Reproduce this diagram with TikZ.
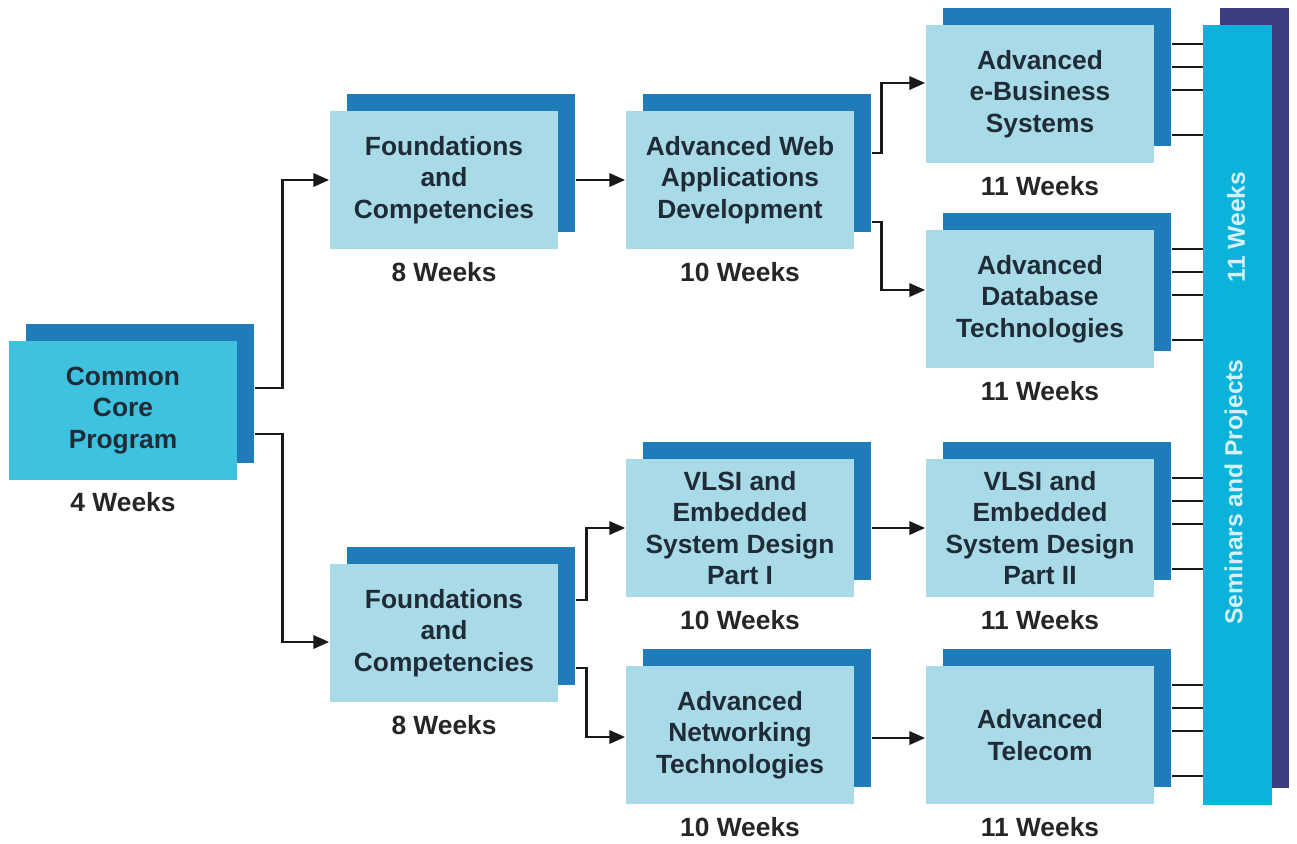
\documentclass[tikz,border=0pt]{standalone}
\usepackage{fontspec}
\setmainfont{Liberation Sans}
\usetikzlibrary{arrows.meta,positioning,calc,shadows}

\definecolor{coreblue}{HTML}{3EC2DF}
\definecolor{modblue}{HTML}{A8DBE7}
\definecolor{backblue}{HTML}{1E7CB9}
\definecolor{barblue}{HTML}{0BB3DA}
\definecolor{barback}{HTML}{3C3E84}
\definecolor{boxtext}{HTML}{1F2B36}
\definecolor{bartext}{HTML}{D6F1F8}

\begin{document}
\begin{tikzpicture}[x=0.02cm, y=-0.02cm,
  modbox/.style={rectangle, fill=modblue, minimum width=4.58cm, minimum height=2.77cm,
    align=center, text=boxtext, font=\bfseries\fontsize{15}{17.9}\selectfont,
    general shadow={fill=backblue, shadow xshift=0.34cm, shadow yshift=0.34cm}},
  weeks/.style={inner sep=0pt, below=7pt of #1, text=black!85, font=\bfseries\fontsize{15}{18}\selectfont},
  flow/.style={line width=1.6pt, black!90, -{Triangle[length=9pt,width=7.5pt]}},
  tick/.style={line width=1.6pt, black!90},
  bartext/.style={rotate=90, text=bartext, font=\bfseries\fontsize{14}{17}\selectfont}]
\useasboundingbox (0,0) rectangle (1297,843);

% Common Core
\node[modbox, fill=coreblue] (ccp) at (123,410.5) {Common\\Core\\Program};
\node[weeks=ccp] (ccpw) {4 Weeks};

% Foundations (oben)
\node[modbox] (fnd1) at (444,180) {Foundations\\and\\Competencies};
\node[weeks=fnd1] (fnd1w) {8 Weeks};

% Web
\node[modbox] (web) at (740,180) {Advanced Web\\Applications\\Development};
\node[weeks=web] (webw) {10 Weeks};

% e-Business
\node[modbox] (ebus) at (1040,94) {Advanced\\e-Business\\Systems};
\node[weeks=ebus] (ebusw) {11 Weeks};

% Database
\node[modbox] (db) at (1040,299) {Advanced\\Database\\Technologies};
\node[weeks=db] (dbw) {11 Weeks};

% Foundations (unten)
\node[modbox] (fnd2) at (444,633) {Foundations\\and\\Competencies};
\node[weeks=fnd2] (fnd2w) {8 Weeks};

% VLSI I
\node[modbox] (vlsi1) at (740,528) {VLSI and\\Embedded\\System Design\\Part I};
\node[weeks=vlsi1] (vlsi1w) {10 Weeks};

% VLSI II
\node[modbox] (vlsi2) at (1040,528) {VLSI and\\Embedded\\System Design\\Part II};
\node[weeks=vlsi2] (vlsi2w) {11 Weeks};

% Networking
\node[modbox] (net) at (740,735) {Advanced\\Networking\\Technologies};
\node[weeks=net] (netw) {10 Weeks};

% Telecom
\node[modbox] (tel) at (1040,735) {Advanced\\Telecom};
\node[weeks=tel] (telw) {11 Weeks};

% Seminars-Balken
\node[rectangle, fill=barblue, minimum width=1.38cm, minimum height=15.6cm, inner sep=0pt,
  general shadow={fill=barback, shadow xshift=0.34cm, shadow yshift=0.34cm}] (bar) at (1237.5,415) {};
\node[bartext] (barwk) at (1236,227) {11 Weeks};
\node[bartext] (barsp) at (1236,492) {Seminars and Projects};

% Verbindungen
\draw[flow] ($(ccp.east)+(17,-22.5)$) -- ++(28,0) |- (fnd1.west);
\draw[flow] ($(ccp.east)+(17,23.5)$) -- ++(28,0) |- ($(fnd2.west)+(0,9)$);
\draw[flow] ($(fnd1.east)+(17,0)$) -- (web.west);
\draw[flow] ($(web.east)+(17,-27)$) -- ++(10,0) |- ($(ebus.west)+(0,-11)$);
\draw[flow] ($(web.east)+(17,42)$) -- ++(10,0) |- ($(db.west)+(0,-9)$);
\draw[flow] ($(fnd2.east)+(17,-33)$) -- ++(11,0) |- (vlsi1.west);
\draw[flow] ($(fnd2.east)+(17,35)$) -- ++(11,0) |- ($(net.west)+(0,2)$);
\draw[flow] ($(vlsi1.east)+(17,0)$) -- (vlsi2.west);
\draw[flow] ($(net.east)+(17,3)$) -- ($(tel.west)+(0,3)$);

% Anschluesse an den Balken
\foreach \m in {ebus,db,vlsi2,tel}
  \foreach \o in {-50,-27,-4,41}
    \draw[tick] ($(\m.east)+(17,\o)$) -- ($(bar.west |- \m.east)+(0,\o)$);
\end{tikzpicture}
\end{document}
